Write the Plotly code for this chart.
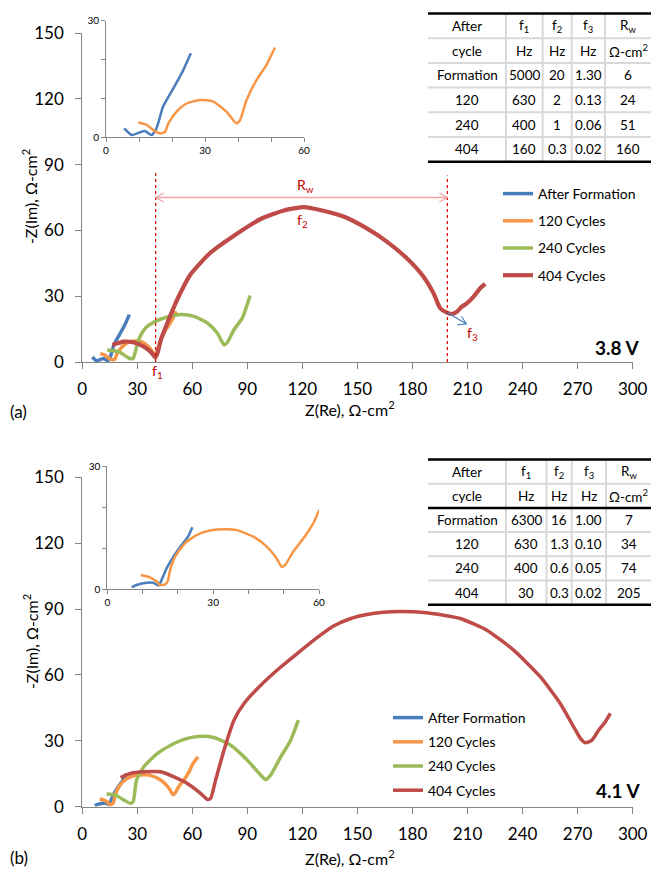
import plotly.graph_objects as go

# ---------------- data ----------------
series_names = ["After Formation", "120 Cycles", "240 Cycles", "404 Cycles"]
series_colors = ["#4A7EBB", "#F79646", "#9BBB59", "#BE4B48"]

# (a) 3.8 V
a_form_x = [5.5, 7.8, 10.0, 11.8, 13.8, 15.3, 17.3, 20.4, 23.2, 25.7]
a_form_y = [2.3, 0.6, 1.2, 1.6, 0.6, 2.3, 7.9, 12.6, 16.9, 21.6]
a_120_x = [9.8, 12.3, 14.8, 16.4, 17.9, 18.9, 21.4, 24.4, 28.5, 32.5, 36.5, 39.5, 40.6, 42.6, 45.6, 48.6, 51.2]
a_120_y = [3.8, 3.2, 1.6, 1.0, 1.4, 3.6, 6.6, 8.7, 9.6, 9.2, 6.6, 3.6, 4.4, 9.6, 14.7, 18.6, 23.1]
a_240_x = [13.6, 20.0, 25.5, 27.8, 29.5, 31.5, 34.5, 39.1, 46.4, 53.6, 60.9, 68.2, 73.6, 77.3, 79.1, 82.7, 87.3, 91.5]
a_240_y = [5.5, 4.7, 1.7, 1.7, 6.5, 11.5, 15.5, 18.2, 20.5, 21.6, 20.8, 17.8, 13.2, 7.8, 8.9, 14.7, 20.1, 30.3]
a_404_x = [16.4, 22.7, 28.2, 33.6, 37.5, 40.0, 41.2, 43.0, 46.4, 51.8, 59.1, 70.0, 82.7, 97.3, 110.0, 120.9,
           129.6, 142.4, 155.1, 166.0, 176.9, 186.0, 191.5, 195.1, 198.7, 201.5, 204.2, 206.9, 209.6, 213.3, 216.9, 219.6]
a_404_y = [7.8, 9.3, 8.9, 7.0, 4.5, 2.0, 4.5, 10.5, 17.8, 28.5, 40.0, 49.9, 57.6, 65.2, 69.1, 70.6,
           69.3, 66.3, 60.9, 54.9, 47.3, 38.9, 31.3, 24.5, 22.5, 21.9, 22.9, 25.2, 26.7, 29.8, 33.6, 35.6]

# (b) 4.1 V
b_form_x = [6.9, 8.3, 11.2, 13.0, 14.5, 15.4, 16.8, 18.7, 21.1, 23.0, 24.1]
b_form_y = [0.5, 1.05, 1.6, 1.6, 0.9, 2.3, 5.1, 7.9, 10.8, 13.0, 15.1]
b_120_x = [9.5, 12.1, 14.0, 14.9, 16.4, 17.1, 17.8, 19.2, 22.0, 25.3, 29.1, 33.4, 36.7, 41.4, 45.2, 48.0,
           49.4, 50.4, 52.7, 55.6, 58.4, 60.0, 63.1]
b_120_y = [3.5, 2.9, 1.9, 1.05, 1.2, 1.9, 4.7, 7.9, 11.2, 13.2, 14.3, 14.6, 14.4, 12.8, 10.4, 7.5,
           5.5, 5.9, 9.2, 12.4, 16.1, 19.1, 22.7]
b_240_x = [13.3, 18.2, 22.7, 26.4, 27.8, 29.6, 33.6, 40.9, 50.0, 57.3, 64.5, 71.8, 80.9, 90.0, 96.4, 100.0,
           102.7, 108.2, 113.6, 117.8]
b_240_y = [5.8, 5.3, 3.0, 1.5, 2.3, 12.1, 18.2, 24.2, 28.8, 31.1, 32.1, 31.5, 28.0, 21.2, 15.2, 12.4,
           14.4, 22.7, 30.3, 39.4]
b_404_x = [20.9, 26.4, 33.6, 42.7, 50.0, 57.3, 64.5, 68.2, 70.0, 72.7, 77.3, 82.7, 88.2, 97.3, 108.2, 119.0,
           128.0, 137.0, 146.0, 155.1, 164.0, 173.3, 187.8, 206.0, 220.5, 235.1, 249.6, 260.5, 267.8, 271.5, 274.2,
           277.8, 281.5, 285.1, 287.8]
b_404_y = [13.3, 15.2, 15.9, 15.9, 13.6, 10.6, 6.1, 3.3, 3.8, 12.1, 25.8, 39.4, 47.0, 55.3, 63.6, 71.0,
           77.0, 82.3, 85.6, 87.5, 88.5, 88.9, 88.3, 85.7, 80.4, 71.3, 59.2, 47.0, 36.4, 31.1, 29.1,
           30.3, 34.9, 38.7, 42.5]

main_ticks = [0, 30, 60, 90, 120, 150, 180, 210, 240, 270, 300]
main_yticks = [0, 30, 60, 90, 120, 150]
inset_xticks = [0, 10, 20, 30, 40, 50, 60]
inset_xtext = ["0", "", "", "30", "", "", "60"]
inset_yticks = [0, 10, 20, 30]
inset_ytext = ["0", "", "", "30"]

# tables
tab_head1 = ["After", "f<sub>1</sub>", "f<sub>2</sub>", "f<sub>3</sub>", "R<sub>w</sub>"]
tab_head2 = ["cycle", "Hz", "Hz", "Hz", "Ω-cm<sup>2</sup>"]
tab_cycles = ["Formation", "120", "240", "404"]
a_f1 = ["5000", "630", "400", "160"]
a_f2 = ["20", "2", "1", "0.3"]
a_f3 = ["1.30", "0.13", "0.06", "0.02"]
a_rw = ["6", "24", "51", "160"]
b_f1 = ["6300", "630", "400", "30"]
b_f2 = ["16", "1.3", "0.6", "0.3"]
b_f3 = ["1.00", "0.10", "0.05", "0.02"]
b_rw = ["7", "34", "74", "205"]

# ---------------- layout helpers ----------------
W, H = 653, 869
FONT = "Lato"
AXC = "#868686"
RED = "#C00000"
SMOOTH = 0.55


def PX(x):
    return x / W


def PY(y):
    return 1 - y / H


fig = go.Figure()

a_sets = [(a_form_x, a_form_y), (a_120_x, a_120_y), (a_240_x, a_240_y), (a_404_x, a_404_y)]
b_sets = [(b_form_x, b_form_y), (b_120_x, b_120_y), (b_240_x, b_240_y), (b_404_x, b_404_y)]

for i, (xs, ys) in enumerate(a_sets):
    fig.add_trace(go.Scatter(x=xs, y=ys, mode="lines", name=series_names[i],
                             line=dict(color=series_colors[i], width=4.2 if i == 3 else 3.5,
                                       shape="spline", smoothing=SMOOTH),
                             xaxis="x", yaxis="y", legend="legend", legendgroup="a%d" % i))
for i, (xs, ys) in enumerate(b_sets):
    fig.add_trace(go.Scatter(x=xs, y=ys, mode="lines", name=series_names[i],
                             line=dict(color=series_colors[i], width=3.5,
                                       shape="spline", smoothing=SMOOTH),
                             xaxis="x2", yaxis="y2", legend="legend2", legendgroup="b%d" % i))
for i in range(2):
    xs, ys = a_sets[i]
    fig.add_trace(go.Scatter(x=xs, y=ys, mode="lines", showlegend=False,
                             line=dict(color=series_colors[i], width=2.5, shape="spline", smoothing=SMOOTH),
                             xaxis="x3", yaxis="y3"))
    xs, ys = b_sets[i]
    fig.add_trace(go.Scatter(x=xs, y=ys, mode="lines", showlegend=False,
                             line=dict(color=series_colors[i], width=2.5, shape="spline", smoothing=SMOOTH),
                             xaxis="x4", yaxis="y4"))


def main_x(anchor):
    return dict(domain=[PX(82.2), PX(632.7)], range=[0, 300], tickvals=main_ticks, ticks="outside",
                ticklen=6, tickcolor=AXC, showline=True, linecolor=AXC, linewidth=1, showgrid=False,
                zeroline=False, tickfont=dict(family=FONT, size=17, color="#000"), anchor=anchor,
                ticklabelstandoff=6, fixedrange=True, automargin=False)


def main_y(dom, anchor):
    return dict(domain=dom, range=[0, 150], tickvals=main_yticks, ticks="outside", ticklen=6,
                tickcolor=AXC, showline=True, linecolor=AXC, linewidth=1, showgrid=False, zeroline=False,
                tickfont=dict(family=FONT, size=17, color="#000"), anchor=anchor, ticklabelstandoff=8,
                fixedrange=True, automargin=False)


def inset_x(dom, anchor):
    return dict(domain=dom, range=[0, 60], tickvals=inset_xticks, ticktext=inset_xtext, ticks="outside",
                ticklen=4, tickcolor=AXC, showline=True, linecolor=AXC, linewidth=1, showgrid=False,
                zeroline=False, tickfont=dict(family=FONT, size=10, color="#000"), anchor=anchor,
                fixedrange=True, automargin=False)


def inset_y(dom, anchor):
    return dict(domain=dom, range=[0, 30], tickvals=inset_yticks, ticktext=inset_ytext, ticks="outside",
                ticklen=4, tickcolor=AXC, showline=True, linecolor=AXC, linewidth=1, showgrid=False,
                zeroline=False, tickfont=dict(family=FONT, size=10, color="#000"), anchor=anchor,
                fixedrange=True, automargin=False)


shapes = []
annotations = []


def add_text(x, y, text, size=13, color="#000", xanchor="center", yanchor="middle", bold=False, angle=0):
    annotations.append(dict(x=PX(x), y=PY(y), xref="paper", yref="paper",
                            text=("<b>%s</b>" % text) if bold else text,
                            showarrow=False, xanchor=xanchor, yanchor=yanchor, textangle=angle,
                            font=dict(family=FONT, size=size, color=color)))


def pline(x0, y0, x1, y1, color, width, dash="solid"):
    shapes.append(dict(type="line", xref="paper", yref="paper", x0=PX(x0), y0=PY(y0), x1=PX(x1), y1=PY(y1),
                       line=dict(color=color, width=width, dash=dash)))


# axis titles and panel labels
for yc, ylab, xlab_y, tag in [(197, 411, 408, "(a)"), (642, 857, 857, "(b)")]:
    add_text(30, yc, "-Z(Im), Ω-cm<sup>2</sup>", size=16, angle=-90)
    add_text(350, xlab_y, "Z(Re), Ω-cm<sup>2</sup>", size=16)
    add_text(8, ylab, tag, size=17, xanchor="left")

add_text(641, 348, "3.8 V", size=19, xanchor="right", bold=True)
add_text(642, 790, "4.1 V", size=19, xanchor="right", bold=True)

# (a) annotations: dotted markers, Rw arrow, f labels
shapes.append(dict(type="line", xref="x", yref="y", x0=40, x1=40, y0=0, y1=86.5,
                   line=dict(color="#E00000", width=1.2, dash="dot")))
shapes.append(dict(type="line", xref="x", yref="y", x0=199, x1=199, y0=0, y1=85,
                   line=dict(color="#E00000", width=1.2, dash="dot")))
shapes.append(dict(type="line", xref="x", yref="y", x0=40, x1=199, y0=75, y1=75,
                   line=dict(color="#F4A3A3", width=1.3)))
xl = 82.2 + 40 * 550.5 / 300
xr = 82.2 + 199 * 550.5 / 300
yr = 362 - 75 * 329 / 150
pline(xl, yr, xl + 8, yr - 4.5, "#F4A3A3", 1.3)
pline(xl, yr, xl + 8, yr + 4.5, "#F4A3A3", 1.3)
pline(xr, yr, xr - 8, yr - 4.5, "#F4A3A3", 1.3)
pline(xr, yr, xr - 8, yr + 4.5, "#F4A3A3", 1.3)
# f3 arrow (blue)
pline(447, 312.5, 466.5, 324, "#4A7EBB", 1.2)
pline(466.5, 324, 457.5, 324.8, "#4A7EBB", 1.2)
pline(466.5, 324, 461.5, 316.5, "#4A7EBB", 1.2)

add_text(305, 186, "R<sub>w</sub>", size=14, color=RED)
add_text(302, 221, "f<sub>2</sub>", size=14, color=RED)
add_text(157, 372, "f<sub>1</sub>", size=14, color=RED)
add_text(473, 333, "f<sub>3</sub>", size=14, color=RED)


# tables
def draw_table(top, rh, seps, f1, f2, f3, rw, thick_header):
    left, right = 428, 651
    nrows = 6
    bottom = top + nrows * rh
    grey = "#D9D9D9"
    for k in range(1, nrows):
        pline(left, top + k * rh, right, top + k * rh, grey, 2)
    for s in seps:
        pline(s, top, s, bottom, grey, 2)
    pline(left, top, right, top, "#000", 2.5)
    pline(left, bottom, right, bottom, "#000", 2.5)
    if thick_header:
        pline(left, top + 2 * rh, right, top + 2 * rh, "#000", 2.5)
    edges = [left] + seps + [right]
    centers = [(edges[i] + edges[i + 1]) / 2 for i in range(5)]
    rows = [tab_head1, tab_head2]
    for j in range(4):
        rows.append([tab_cycles[j], f1[j], f2[j], f3[j], rw[j]])
    for r, row in enumerate(rows):
        for c, txt in enumerate(row):
            add_text(centers[c], top + (r + 0.5) * rh, txt, size=13.5)


draw_table(13.5, 24.7, [506, 542.7, 571.7, 605], a_f1, a_f2, a_f3, a_rw, False)
draw_table(459.5, 24.2, [506, 546.5, 571.7, 606], b_f1, b_f2, b_f3, b_rw, True)

leg_common = dict(xanchor="left", yanchor="top", font=dict(family=FONT, size=14, color="#000"),
                  bgcolor="rgba(0,0,0,0)", itemwidth=30, borderwidth=0)

fig.update_layout(
    template="none",
    width=W, height=H, margin=dict(l=0, r=0, t=0, b=0, pad=0, autoexpand=False),
    paper_bgcolor="white", plot_bgcolor="rgba(0,0,0,0)",
    font=dict(family=FONT, color="#000"),
    xaxis=main_x("y"), yaxis=main_y([PY(362), PY(33)], "x"),
    xaxis2=main_x("y2"), yaxis2=main_y([PY(806.7), PY(477.3)], "x2"),
    xaxis3=inset_x([PX(106), PX(304)], "y3"), yaxis3=inset_y([PY(137.3), PY(20.7)], "x3"),
    xaxis4=inset_x([PX(107.3), PX(319)], "y4"), yaxis4=inset_y([PY(589.3), PY(466)], "x4"),
    legend=dict(x=PX(498), y=PY(178), tracegroupgap=6, **leg_common),
    legend2=dict(x=PX(388), y=PY(702), tracegroupgap=3, **leg_common),
    shapes=shapes, annotations=annotations, showlegend=True,
)

fig.write_html("out.html", config={"displayModeBar": False},
               post_script="document.body.style.margin='0';document.body.style.padding='0';")
